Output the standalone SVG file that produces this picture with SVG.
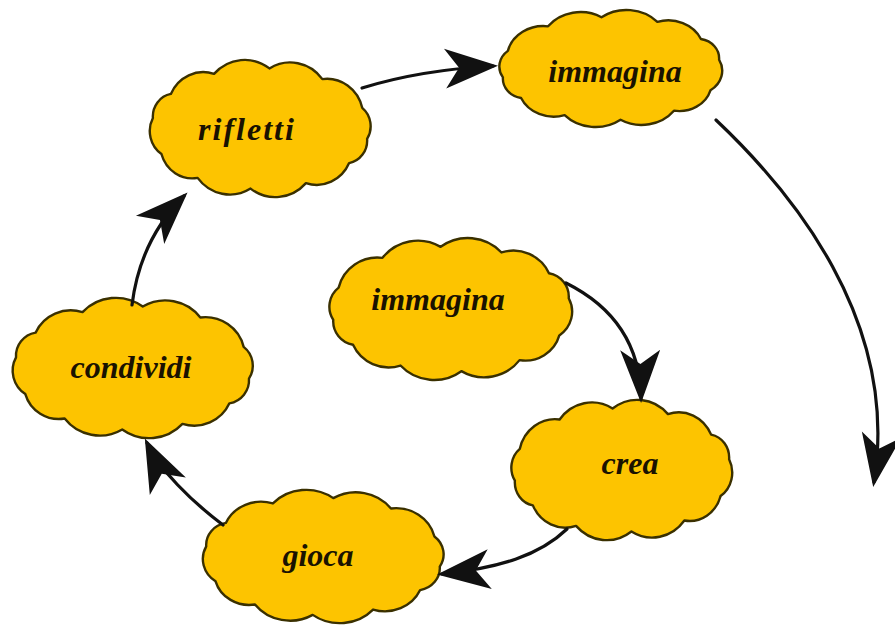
<svg xmlns="http://www.w3.org/2000/svg" xmlns:xlink="http://www.w3.org/1999/xlink" width="895" height="628" viewBox="0 0 895 628">
  <style>
    .cloud { fill: #FDC400; stroke: #3A3000; stroke-width: 2.4; vector-effect: non-scaling-stroke; stroke-linejoin: round; }
    .label { font-family: "Liberation Serif", "DejaVu Serif", serif; font-style: italic; font-weight: bold; font-size: 32px; fill: #1A1200; text-anchor: middle; }
    .conn { fill: none; stroke: #111; stroke-width: 3.2; stroke-linecap: round; marker-end: url(#ah); }
  </style>
  <defs>
    <path id="cloudShape" class="cloud" d="M96.5,-9 A23.9,23.9 0 0 1 88.8,22 A29,29 0 0 1 56.2,42.6 A36.5,36.5 0 0 1 8.5,51.8 A37.6,37.6 0 0 1 -41.4,47.1 A32,32 0 0 1 -80.3,29.8 A19.8,19.8 0 0 1 -96.5,9 A20.4,20.4 0 0 1 -92.1,-17.8 A32.7,32.7 0 0 1 -56.2,-42.6 A36.5,36.5 0 0 1 -8.5,-51.8 A37.6,37.6 0 0 1 41.4,-47.1 A32,32 0 0 1 80.3,-29.8 A19.8,19.8 0 0 1 96.5,-9 Z"/>
    <marker id="ah" viewBox="-56 -22 62 44" refX="-5" refY="0" markerWidth="62" markerHeight="44" markerUnits="userSpaceOnUse" orient="auto">
      <path d="M0,0 L-53,-20 L-39,0 L-53,20 Z" fill="#111"/>
    </marker>
  </defs>
  <rect width="895" height="628" fill="#FFFFFF"/>

  <g id="node-immagina-top">
    <use xlink:href="#cloudShape" href="#cloudShape" transform="translate(611,68.5) scale(1.12,0.99)"/>
    <text class="label" x="615" y="82">immagina</text>
  </g>
  <g id="node-rifletti">
    <use xlink:href="#cloudShape" href="#cloudShape" transform="translate(260,128.5) scale(-1.11,1.16)"/>
    <text class="label" x="247" y="140" letter-spacing="2">rifletti</text>
  </g>
  <g id="node-immagina-center">
    <use xlink:href="#cloudShape" href="#cloudShape" transform="translate(451,309) scale(1.22,1.2)"/>
    <text class="label" x="438" y="310">immagina</text>
  </g>
  <g id="node-condividi">
    <use xlink:href="#cloudShape" href="#cloudShape" transform="translate(132.5,368) scale(-1.207,1.186)"/>
    <text class="label" x="131" y="378">condividi</text>
  </g>
  <g id="node-crea">
    <use xlink:href="#cloudShape" href="#cloudShape" transform="translate(622,470) scale(1.11,1.186)"/>
    <text class="label" x="630" y="474">crea</text>
  </g>
  <g id="node-gioca">
    <use xlink:href="#cloudShape" href="#cloudShape" transform="translate(323,556.5) scale(-1.21,1.127)"/>
    <text class="label" x="318" y="566">gioca</text>
  </g>

  <g id="connectors">
    <path class="conn" d="M362,88 Q420,70 493,66"/>
    <path class="conn" d="M716,120 C790,190 900,320 874,482"/>
    <path class="conn" d="M566,283 C610,305 640,340 641,398"/>
    <path class="conn" d="M567,529 C540,555 500,568 442,574"/>
    <path class="conn" d="M223,525 C190,500 160,470 147,443"/>
    <path class="conn" d="M132,305 Q140,240 184,196"/>
  </g>
</svg>
